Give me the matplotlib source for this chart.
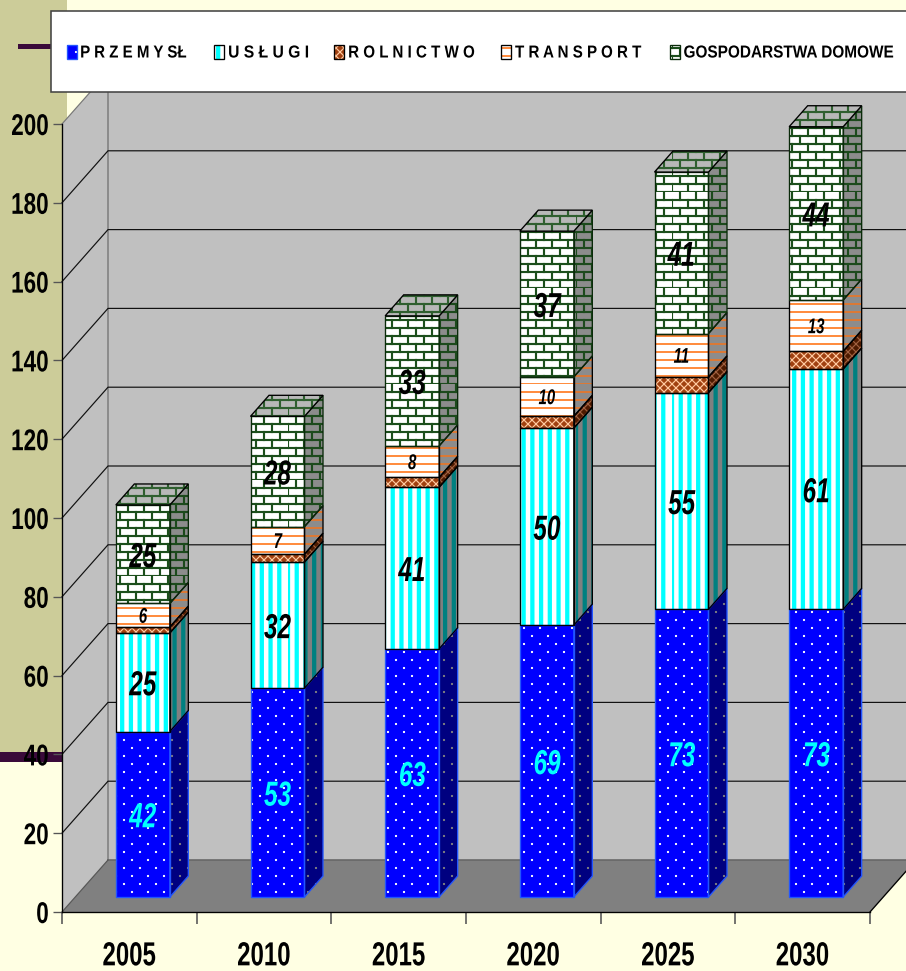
import matplotlib
matplotlib.use('Agg')
import matplotlib.pyplot as plt
import matplotlib.hatch as mhatch
from matplotlib.patches import Polygon, Rectangle
from matplotlib.path import Path
from matplotlib.patheffects import AbstractPathEffect
from matplotlib.transforms import Affine2D
import numpy as np

years = ['2005', '2010', '2015', '2020', '2025', '2030']
przemysl = [42, 53, 63, 69, 73, 73]
uslugi = [25, 32, 41, 50, 55, 61]
rolnictwo = [1.5, 2, 2.5, 3, 4, 4.5]
transport = [6, 7, 8, 10, 11, 13]
gospodarstwa = [25, 28, 33, 37, 41, 44]
legend_labels = ['P R Z E M Y SŁ', 'U S Ł U G I', 'R O L N I C T W O',
                 'T R A N S P O R T', 'GOSPODARSTWA DOMOWE']
value_ticks = list(range(0, 201, 20))

W, H, DPI = 906, 971, 96
plt.rcParams['font.family'] = ['Liberation Sans', 'DejaVu Sans']


class Squeeze(AbstractPathEffect):
    """Narrows glyphs horizontally, by a factor or to a width in pixels."""

    def __init__(self, factor=None, width=None, anchor='center'):
        super().__init__()
        self.factor = factor
        self.width = width
        self.anchor = anchor

    def draw_path(self, renderer, gc, tpath, affine, rgbFace=None):
        box = tpath.get_extents()
        f = self.factor
        if self.width is not None:
            f = self.width / tpath.transformed(affine).get_extents().width
        xa = {'left': box.x0, 'right': box.x1, 'center': (box.x0 + box.x1) / 2}[self.anchor]
        squeeze = Affine2D().translate(-xa, 0).scale(f, 1).translate(xa, 0)
        renderer.draw_path(gc, tpath, squeeze + affine, rgbFace)


# hatch tiles are one inch wide, so at 96 dpi the fractions below are whole pixels
class BrickHatch(mhatch.HatchPatternBase):
    filled = False

    def __init__(self, hatch, density):
        self.num_lines = hatch.count('B')
        self.num_vertices = self.num_lines * (2 * 12 + 2 * 6 * 12)

    def set_vertices_and_codes(self, vertices, codes):
        if not self.num_lines:
            return
        segs = []
        for r in range(12):
            y0, y1 = r / 12, (r + 1) / 12
            segs.append(((0, y0), (1, y0)))
            for c in range(6):
                x = (c + (0.5 if r % 2 else 0)) / 6
                segs.append(((x, y0), (x, y1)))
        for i, (a, b) in enumerate(segs):
            vertices[2 * i] = a
            vertices[2 * i + 1] = b
            codes[2 * i] = Path.MOVETO
            codes[2 * i + 1] = Path.LINETO


class DotHatch(mhatch.HatchPatternBase):
    filled = True

    def __init__(self, hatch, density):
        self.num_dots = hatch.count('D')
        self.num_vertices = self.num_dots * 72 * 5

    def set_vertices_and_codes(self, vertices, codes):
        if not self.num_dots:
            return
        s = 0.7 / 96
        k = 0
        for r in range(12):
            for c in range(6):
                cx = (c + (0.5 if r % 2 else 0) + 0.25) / 6
                cy = (r + 0.5) / 12
                vertices[k:k + 5] = [(cx - s, cy - s), (cx - s, cy + s), (cx + s, cy + s),
                                     (cx + s, cy - s), (cx - s, cy - s)]
                codes[k:k + 5] = [Path.MOVETO, Path.LINETO, Path.LINETO, Path.LINETO, Path.CLOSEPOLY]
                k += 5


class StripeHatch(mhatch.HatchPatternBase):
    filled = False

    def __init__(self, hatch, density):
        self.vert = hatch.count('V')
        self.horiz = hatch.count('H')
        self.num_vertices = (self.vert * 11 + self.horiz * 12) * 2

    def set_vertices_and_codes(self, vertices, codes):
        k = 0
        if self.vert:
            for i in range(11):
                vertices[k:k + 2] = [(i / 11, 0), (i / 11, 1)]
                codes[k:k + 2] = [Path.MOVETO, Path.LINETO]
                k += 2
        if self.horiz:
            for i in range(12):
                vertices[k:k + 2] = [(0, i / 12), (1, i / 12)]
                codes[k:k + 2] = [Path.MOVETO, Path.LINETO]
                k += 2


mhatch._hatch_types.extend([BrickHatch, DotHatch, StripeHatch])

# face colours, hatch colours and widths per series
SERIES_STYLE = [
    dict(front='#0000FF', side='#000080', hf='#FFFFFF', hs='#808080', hatch='D', lw=0.5, edge='#2255FF'),
    dict(front='#FFFFFF', side='#808080', hf='#00FFFF', hs='#008080', hatch='V', lw=3.2, edge='#000000'),
    dict(front='#A04010', side='#4D1A00', hf='#FFC9A0', hs='#A06040', hatch='xxxx', lw=0.9, edge='#000000'),
    dict(front='#FFFFFF', side='#8C8C8C', hf='#FF8533', hs='#E07830', hatch='H', lw=1.4, edge='#000000'),
    dict(front='#FFFFFF', side='#8C8C8C', hf='#1C4F1C', hs='#1C4A1C', hatch='B', lw=1.6, edge='#0A2A0A'),
]

fig = plt.figure(figsize=(W / DPI, H / DPI), dpi=DPI, facecolor='#FFFFE3')

# page decoration behind the chart
deco = fig.add_axes([0, 0, 1, 1], zorder=0)
deco.set_xlim(0, W)
deco.set_ylim(H, 0)
deco.axis('off')
deco.add_patch(Rectangle((0, 0), 67, 752, fc='#CCCC99', ec='none'))
deco.add_patch(Rectangle((0, 752), 67, 9.5, fc='#3A0A3A', ec='none'))
deco.add_patch(Rectangle((18, 44), 40, 4.5, fc='#3A0A3A', ec='none'))

ax = fig.add_axes([62 / W, 1 - 912 / H, (870 - 62) / W, (912 - 124) / H], zorder=1)
ax.set_xlim(0, 6)
ax.set_ylim(0, 200)
ax.patch.set_visible(False)
for s in ['top', 'right']:
    ax.spines[s].set_visible(False)
for s in ['left', 'bottom']:
    ax.spines[s].set_color('black')
    ax.spines[s].set_linewidth(1.0)
    ax.spines[s].set_zorder(6)

# depth of the box, of the bar plane and of one bar, in data units
DEPTH_X, DEPTH_Y = 46 / 134.67, 52 / 3.94
PLANE_X, PLANE_Y = 13.5 / 134.67, 15 / 3.94
BAR_DX, BAR_DY = 18.5 / 134.67, 21 / 3.94
BAR_W = 54 / 134.67


def poly(pts, fc, ec='none', lw=0.0, z=1.0, hatch=None, hatch_lw=1.0):
    p = Polygon(pts, closed=True, facecolor=fc, edgecolor=ec, linewidth=lw, hatch=hatch,
                clip_on=False, zorder=z)
    p._hatch_linewidth = hatch_lw
    ax.add_patch(p)
    return p


# walls and floor of the box
poly([(0, 0), (DEPTH_X, DEPTH_Y), (6 + DEPTH_X, DEPTH_Y), (6, 0)], '#808080', z=1)
poly([(0, 0), (DEPTH_X, DEPTH_Y), (DEPTH_X, 200 + DEPTH_Y), (0, 200)], '#C0C0C0', z=1)
poly([(DEPTH_X, DEPTH_Y), (6 + DEPTH_X, DEPTH_Y), (6 + DEPTH_X, 200 + DEPTH_Y), (DEPTH_X, 200 + DEPTH_Y)],
     '#C0C0C0', z=1)
ax.plot([DEPTH_X, DEPTH_X], [DEPTH_Y, 200 + DEPTH_Y], color='#808080', lw=1.2, zorder=1.5, clip_on=False)
ax.plot([DEPTH_X, 6 + DEPTH_X], [DEPTH_Y, DEPTH_Y], color='#666666', lw=1.2, zorder=1.5, clip_on=False)
ax.plot([6, 6 + DEPTH_X], [0, DEPTH_Y], color='black', lw=1.0, zorder=1.5, clip_on=False)
for v in value_ticks:
    if v:
        ax.plot([0, DEPTH_X, 6 + DEPTH_X], [v, v + DEPTH_Y, v + DEPTH_Y],
                color='#777777' if v == 200 else '#111111', lw=0.9, zorder=1.5, clip_on=False)
ax.plot([0, DEPTH_X], [0, DEPTH_Y], color='#555555', lw=0.9, zorder=1.5, clip_on=False)

# stacked bars, each segment drawn as front and side face
all_series = [przemysl, uslugi, rolnictwo, transport, gospodarstwa]
bottoms = np.zeros(len(years))
for vals, st in zip(all_series, SERIES_STYLE):
    for i, v in enumerate(vals):
        x0 = i + 0.5 + PLANE_X - BAR_W / 2
        x1 = x0 + BAR_W
        y0 = bottoms[i] + PLANE_Y
        y1 = y0 + v
        side = [(x1, y0), (x1 + BAR_DX, y0 + BAR_DY), (x1 + BAR_DX, y1 + BAR_DY), (x1, y1)]
        front = [(x0, y0), (x1, y0), (x1, y1), (x0, y1)]
        poly(side, st['side'], ec=st['hs'], hatch=st['hatch'], hatch_lw=st['lw'], z=3)
        poly(front, st['front'], ec=st['hf'], hatch=st['hatch'], hatch_lw=st['lw'], z=3)
        poly(side, 'none', ec=st['edge'], lw=1.0, z=3.5)
        poly(front, 'none', ec=st['edge'], lw=1.0, z=3.5)
    bottoms += np.array(vals, dtype=float)

# lid of each bar
for i, total in enumerate(bottoms):
    x0 = i + 0.5 + PLANE_X - BAR_W / 2
    x1 = x0 + BAR_W
    y1 = total + PLANE_Y
    lid = [(x0, y1), (x1, y1), (x1 + BAR_DX, y1 + BAR_DY), (x0 + BAR_DX, y1 + BAR_DY)]
    poly(lid, '#B8B8B8', ec='#2F5F2F', hatch='B', hatch_lw=1.6, z=3.6)
    poly(lid, 'none', ec='black', lw=1.0, z=3.7)

# value labels, the transport ones are smaller
bottoms = np.zeros(len(years))
for s, (vals, st) in enumerate(zip(all_series, SERIES_STYLE)):
    for i, v in enumerate(vals):
        if s != 2:
            small = s == 3
            t = ax.text(i + 0.5 + PLANE_X, bottoms[i] + PLANE_Y + v / 2, str(v), ha='center',
                        va='center_baseline', fontsize=16 if small else 26, fontweight='bold',
                        fontstyle='italic', color='#00FFFF' if s == 0 else 'black',
                        zorder=5, clip_on=False)
            t.set_path_effects([Squeeze(factor=0.7)])
    bottoms += np.array(vals, dtype=float)

ax.set_yticks(value_ticks)
ax.set_yticklabels([str(v) for v in value_ticks], fontsize=22.5, fontweight='bold')
ax.set_xticks(range(7))
ax.set_xticklabels([])
ax.set_xticks(np.arange(6) + 0.5, labels=years, minor=True, fontsize=25, fontweight='bold')
ax.tick_params(axis='x', which='minor', length=0, pad=22)
ax.tick_params(axis='x', which='major', length=9, width=1.2, color='#555555')
ax.tick_params(axis='y', length=6.75, width=1.0, color='#555555', pad=3)
for lab in ax.get_yticklabels():
    lab.set_path_effects([Squeeze(factor=0.75, anchor='right')])
for lab in ax.get_xticklabels(minor=True):
    lab.set_path_effects([Squeeze(factor=0.72)])

# legend box across the top
leg = fig.add_axes([0, 0, 1, 1], zorder=2)
leg.set_xlim(0, W)
leg.set_ylim(H, 0)
leg.axis('off')
leg.add_patch(Rectangle((51, 11), 900, 81, fc='white', ec='#444444', lw=1.2))
swatch_x = [67, 214, 334, 501, 670]
text_x = [80, 228, 348, 515, 894]
text_w = [105, 79, 125, 126, 209]
text_ha = ['left', 'left', 'left', 'left', 'right']
for sx, tx, tw, ha, lab, st in zip(swatch_x, text_x, text_w, text_ha, legend_labels, SERIES_STYLE):
    p = Rectangle((sx, 45), 9.5, 14, fc=st['front'], ec=st['hf'], hatch=st['hatch'], lw=0)
    p._hatch_linewidth = st['lw']
    leg.add_patch(p)
    leg.add_patch(Rectangle((sx, 45), 9.5, 14, fc='none', ec=st['edge'], lw=1.0))
    t = leg.text(tx, 51.5, lab, fontsize=13, fontweight='bold', ha=ha, va='center_baseline')
    t.set_path_effects([Squeeze(width=tw, anchor=ha)])

fig.savefig('out.png', dpi=DPI, facecolor=fig.get_facecolor())
